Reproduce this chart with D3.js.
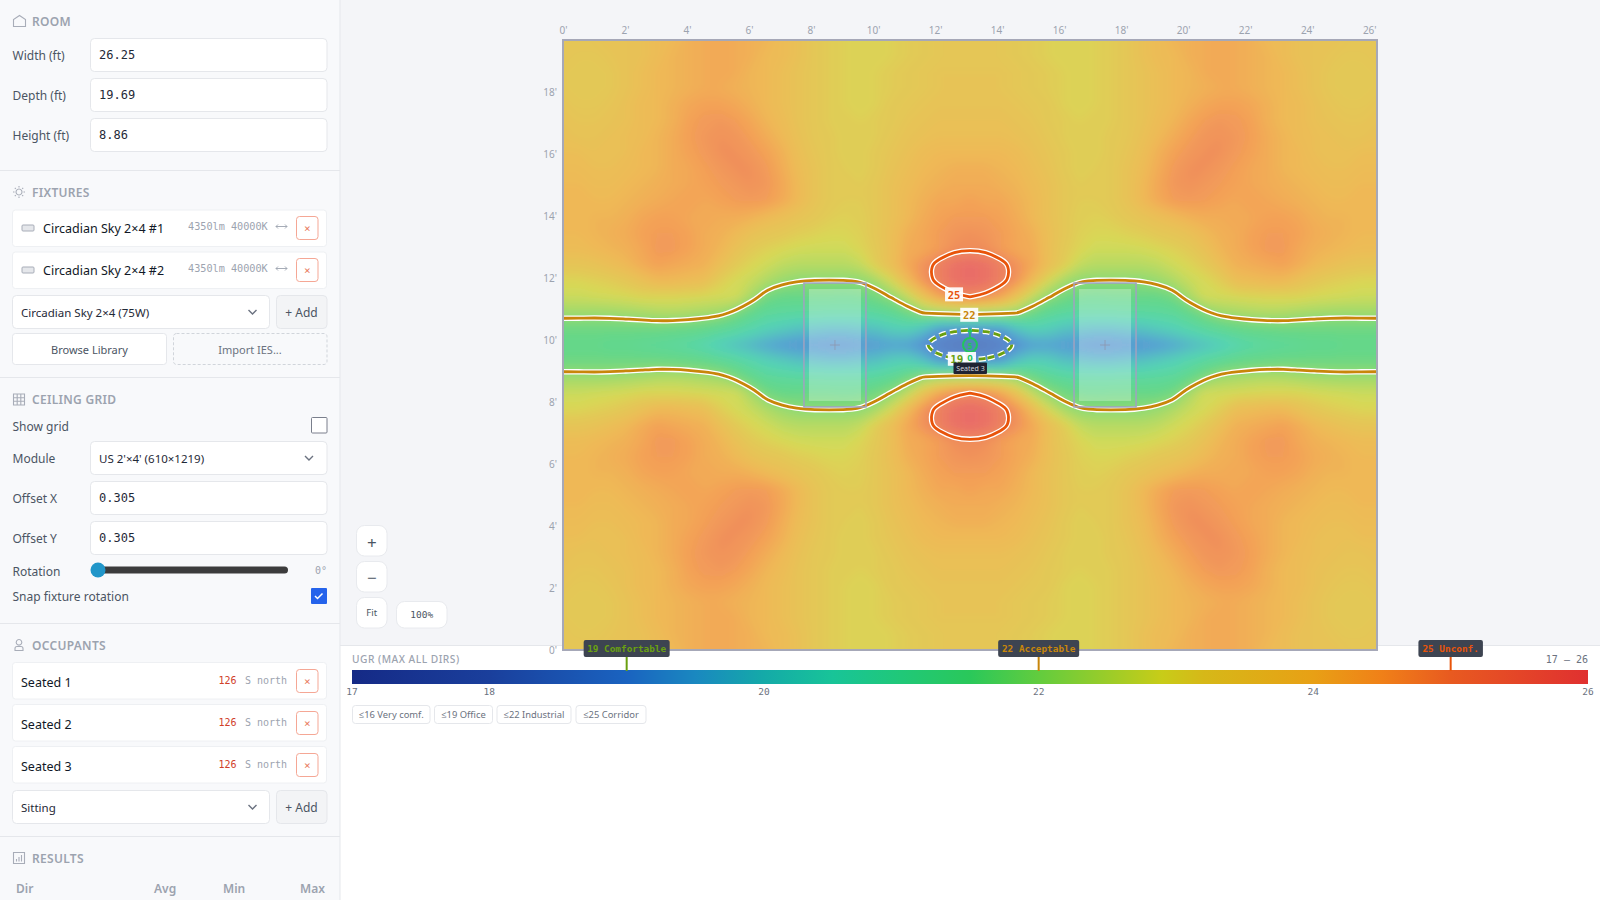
<!DOCTYPE html>
<html>
<head>
<meta charset="utf-8">
<title>UGR map</title>
<script src="https://cdn.jsdelivr.net/npm/d3@7"></script>
<style>
  html, body { margin: 0; padding: 0; background: #fff; overflow: hidden; }
  svg { display: block; }
</style>
</head>
<body>
<svg id="page" width="1600" height="900"></svg>
<script>
// values: top left quarter of the room, the map is mirrored in both axes
const ugrQuarter = [
  [23.4,23.4,23.5,23.5,23.6,23.7,23.9,24.0,24.2,24.3,24.3,24.3,24.2,24.1,23.9,23.7,23.4,23.2,23.1,23.0,23.0,23.1,23.2,23.3,23.4,23.4,23.4],
  [23.4,23.4,23.4,23.5,23.6,23.7,23.9,24.1,24.2,24.3,24.3,24.3,24.2,24.0,23.9,23.7,23.4,23.2,23.1,23.0,23.0,23.1,23.2,23.3,23.4,23.4,23.4],
  [23.4,23.3,23.3,23.4,23.6,23.8,24.0,24.1,24.2,24.3,24.3,24.3,24.1,24.0,23.8,23.6,23.4,23.2,23.1,23.0,23.1,23.2,23.3,23.4,23.5,23.5,23.5],
  [23.4,23.3,23.3,23.4,23.6,23.8,24.0,24.1,24.2,24.3,24.3,24.2,24.1,24.0,23.8,23.6,23.4,23.2,23.1,23.0,23.1,23.2,23.3,23.4,23.5,23.5,23.5],
  [23.5,23.4,23.4,23.5,23.7,23.9,24.0,24.2,24.4,24.5,24.5,24.4,24.2,24.0,23.8,23.6,23.4,23.2,23.1,23.0,23.1,23.3,23.4,23.5,23.6,23.6,23.6],
  [23.6,23.5,23.5,23.6,23.7,23.9,24.0,24.2,24.5,24.65,24.7,24.6,24.4,24.1,23.9,23.6,23.4,23.2,23.1,23.1,23.2,23.3,23.5,23.6,23.7,23.7,23.7],
  [23.7,23.6,23.6,23.7,23.8,23.9,24.1,24.3,24.55,24.7,24.8,24.75,24.55,24.3,24.0,23.7,23.4,23.3,23.1,23.1,23.2,23.4,23.6,23.7,23.8,23.8,23.8],
  [23.8,23.8,23.7,23.7,23.8,24.0,24.1,24.3,24.5,24.65,24.8,24.8,24.7,24.5,24.2,23.8,23.5,23.3,23.1,23.1,23.3,23.5,23.7,23.9,24.0,24.0,24.0],
  [23.9,23.9,23.8,23.8,23.9,24.0,24.1,24.3,24.4,24.55,24.7,24.8,24.8,24.65,24.3,23.9,23.6,23.3,23.2,23.1,23.3,23.6,23.8,24.0,24.1,24.2,24.2],
  [24.0,24.0,23.9,23.9,24.0,24.1,24.2,24.3,24.4,24.5,24.6,24.7,24.8,24.7,24.4,24.0,23.6,23.3,23.2,23.2,23.4,23.7,23.9,24.1,24.2,24.3,24.3],
  [24.0,24.0,24.0,24.0,24.1,24.2,24.3,24.4,24.4,24.4,24.5,24.6,24.65,24.6,24.35,24.0,23.6,23.3,23.2,23.2,23.4,23.7,24.0,24.2,24.4,24.4,24.5],
  [24.0,24.0,24.1,24.1,24.2,24.4,24.5,24.5,24.4,24.3,24.3,24.3,24.2,24.0,23.8,23.6,23.4,23.2,23.1,23.1,23.4,23.7,24.0,24.3,24.5,24.6,24.6],
  [24.0,24.0,24.1,24.2,24.3,24.5,24.6,24.6,24.5,24.3,24.2,24.0,23.7,23.5,23.4,23.2,23.1,23.0,23.0,23.1,23.4,23.8,24.2,24.4,24.6,24.75,24.8],
  [23.9,23.9,24.0,24.1,24.2,24.4,24.65,24.65,24.5,24.3,24.1,23.7,23.3,23.1,22.95,22.85,22.8,22.8,22.8,23.0,23.3,23.8,24.3,24.4,24.6,24.85,24.9],
  [23.5,23.5,23.6,23.8,24.0,24.3,24.5,24.4,24.3,24.2,23.8,23.3,23.0,22.8,22.6,22.5,22.5,22.5,22.5,22.65,23.2,23.8,24.4,24.8,25.2,25.7,25.9],
  [23.0,23.0,23.1,23.2,23.4,23.7,24.0,24.0,23.9,23.8,23.2,22.9,22.7,22.4,22.15,22.02,21.98,21.98,21.98,22.03,22.3,22.9,23.9,24.75,25.2,25.7,25.9],
  [22.75,22.75,22.8,22.85,22.9,23.0,23.0,23.0,22.95,22.9,22.85,22.85,22.3,21.7,21.5,21.5,21.5,21.5,21.45,21.5,21.7,22.05,22.6,23.6,24.45,24.85,25.0],
  [22.2,22.2,22.18,22.2,22.25,22.3,22.4,22.42,22.38,22.3,22.2,21.85,21.4,21.1,21.0,20.95,20.95,20.9,20.9,20.9,21.0,21.2,21.62,22.02,22.15,22.25,22.3],
  [21.6,21.6,21.6,21.6,21.6,21.6,21.6,21.55,21.5,21.4,21.2,21.0,20.7,20.4,20.2,20.0,19.9,19.8,19.8,19.9,20.0,20.3,20.4,20.0,19.25,19.1,19.05],
  [21.4,21.4,21.4,21.3,21.3,21.2,21.1,21.0,20.85,20.6,20.3,20.0,19.75,19.5,19.3,19.2,19.15,19.1,19.1,19.2,19.3,19.4,19.35,19.0,18.6,18.4,18.3]
];

const roomWidth = 26.25;
const roomDepth = 19.69;
const xTicks = [0, 2, 4, 6, 8, 10, 12, 14, 16, 18, 20, 22, 24, 26];
const yTicks = [0, 2, 4, 6, 8, 10, 12, 14, 16, 18];

const rampValues = [17, 18, 19, 19.5, 20, 20.5, 21, 21.5, 22, 22.9, 23.2, 24, 24.5, 25, 26];
const rampColors = ["#152a86", "#1a3f9c", "#1a63c0", "#1a88c0", "#14aaa8", "#18c498", "#20c878", "#2ac85a", "#62cc3e", "#c8cc18", "#d6b818", "#e8a015", "#f08018", "#e85a20", "#e03030"];

const contourLevels = [19, 22, 25];
const contourColors = ["#6aa010", "#c8860a", "#e8540a"];
const contourLabelPos = [[12.7, 9.4], [13.1, 10.82], [12.61, 11.48]];
const legendTicks = [17, 18, 20, 22, 24, 26];
const legendMarks = ["19 Comfortable", "22 Acceptable", "25 Unconf."];
const legendBadges = ["≤16 Very comf.", "≤19 Office", "≤22 Industrial", "≤25 Corridor"];

const fixtureX = [8.77, 17.48];
const fixtureY = [9.845, 9.845];
const fixtureW = 2;
const fixtureH = 4;
const occupantPos = [13.125, 9.845];

const roomFields = [["Width (ft)", "26.25"], ["Depth (ft)", "19.69"], ["Height (ft)", "8.86"]];
const fixtureNames = ["Circadian Sky 2×4 #1", "Circadian Sky 2×4 #2"];
const occupantNames = ["Seated 1", "Seated 2", "Seated 3"];
const resultCols = ["Dir", "Avg", "Min", "Max"];

const uiFont = "'Noto Sans', 'Open Sans', sans-serif";
const monoFont = "'DejaVu Sans Mono', monospace";
const svg = d3.select("#page");

function box(parent, x, y, w, h, fill, stroke, r = 0, dash = null) {
  return parent.append("rect")
    .attr("x", x).attr("y", y).attr("width", w).attr("height", h)
    .attr("rx", r).attr("fill", fill).attr("stroke", stroke || "none")
    .attr("stroke-dasharray", dash);
}

function label(parent, x, y, str, size, fill, opts = {}) {
  return parent.append("text")
    .attr("x", x).attr("y", y)
    .attr("dominant-baseline", "central")
    .attr("text-anchor", opts.anchor || "start")
    .attr("font-family", opts.font || uiFont)
    .attr("font-size", size)
    .attr("font-weight", opts.weight || 400)
    .attr("letter-spacing", opts.spacing || null)
    .attr("fill", fill)
    .text(str);
}

// ------ map
const plotLeft = 563, plotRight = 1377, plotTop = 40, plotBottom = 650;
const x = d3.scaleLinear().domain([0, roomWidth]).range([plotLeft, plotRight]);
const y = d3.scaleLinear().domain([0, roomDepth]).range([plotBottom, plotTop]);
const color = d3.scaleLinear().domain(rampValues).range(rampColors).clamp(true);

const ny = ugrQuarter.length * 2 - 1;
const nx = ugrQuarter[0].length * 2 - 1;
const ugrGrid = [];
for (let j = 0; j < ny; j++) {
  const row = ugrQuarter[j < ugrQuarter.length ? j : ny - 1 - j];
  for (let i = 0; i < nx; i++) {
    ugrGrid.push(row[i < row.length ? i : nx - 1 - i]);
  }
}

// d3.contours puts cell centres on .5
const gridX = d3.scaleLinear().domain([0.5, nx - 0.5]).range([plotLeft, plotRight]);
const gridY = d3.scaleLinear().domain([0.5, ny - 0.5]).range([plotTop, plotBottom]);

function drawMainBackground() {
  box(svg, 0, 0, 1600, 900, "#ffffff");
  box(svg, 340, 0, 1260, 645, "#f4f5f8");
  svg.append("line").attr("x1", 340).attr("x2", 1600).attr("y1", 645.5).attr("y2", 645.5).attr("stroke", "#e5e7eb");
}

function drawHeatmap() {
  const defs = svg.append("defs");
  defs.append("clipPath").attr("id", "room")
    .append("rect")
    .attr("x", plotLeft).attr("y", plotTop)
    .attr("width", plotRight - plotLeft).attr("height", plotBottom - plotTop);
  const soften = defs.append("filter").attr("id", "soften")
    .attr("filterUnits", "userSpaceOnUse")
    .attr("x", plotLeft - 30).attr("y", plotTop - 30)
    .attr("width", plotRight - plotLeft + 60).attr("height", plotBottom - plotTop + 60);
  soften.append("feGaussianBlur").attr("stdDeviation", 4);

  const bands = d3.range(170, 260).map(d => d / 10);
  const contours = d3.contours().size([nx, ny]).thresholds(bands)(ugrGrid);
  const path = d3.geoPath(d3.geoTransform({
    point(px, py) { this.stream.point(gridX(px), gridY(py)); }
  }));

  const map = svg.append("g").attr("clip-path", "url(#room)");
  box(map, plotLeft, plotTop, plotRight - plotLeft, plotBottom - plotTop, "#ffffff");
  const heat = map.append("g").attr("opacity", 0.72).append("g").attr("filter", "url(#soften)");
  box(heat, plotLeft - 20, plotTop - 20, plotRight - plotLeft + 40, plotBottom - plotTop + 40, color(17));
  heat.selectAll("path")
    .data(contours)
    .enter()
    .append("path")
    .attr("d", path)
    .attr("fill", d => color(d.value + 0.05));

  // iso lines: trace the rings again, drop what runs along the edge of the grid
  const curveOpen = d3.line().x(d => gridX(d[0])).y(d => gridY(d[1])).curve(d3.curveBasis);
  const curveClosed = d3.line().x(d => gridX(d[0])).y(d => gridY(d[1])).curve(d3.curveBasisClosed);

  contourLevels.forEach((level, k) => {
    const dashed = level === 19;
    isoRuns(level).forEach(run => {
      const dStr = run.closed ? curveClosed(run.pts) : curveOpen(run.pts);
      map.append("path").attr("d", dStr).attr("fill", "none")
        .attr("stroke", "#ffffff").attr("stroke-width", 5.4)
        .attr("stroke-dasharray", dashed ? "7 4" : null);
      map.append("path").attr("d", dStr).attr("fill", "none")
        .attr("stroke", contourColors[k]).attr("stroke-width", 2.8)
        .attr("stroke-dasharray", dashed ? "7 4" : null);
    });
  });

  // fixtures
  fixtureX.forEach((fx, k) => {
    const cx = x(fx), cy = y(fixtureY[k]);
    const w = x(fixtureW) - x(0), h = y(0) - y(fixtureH);
    box(map, cx - w / 2 + 5, cy - h / 2 + 6, w - 10, h - 12, "#ffffff").attr("opacity", 0.28);
    box(map, cx - w / 2, cy - h / 2, w, h, "none", "#a0a2c0").attr("stroke-width", 1.5);
    map.append("path").attr("d", `M${cx - 5},${cy}H${cx + 5}M${cx},${cy - 5}V${cy + 5}`)
      .attr("stroke", "#8e98b0").attr("stroke-width", 0.8);
  });

  box(svg, plotLeft, plotTop, plotRight - plotLeft, plotBottom - plotTop, "none", "#a6a8b8").attr("stroke-width", 2);

  // axes
  const topAxis = d3.axisTop(x).tickValues(xTicks).tickSize(0).tickPadding(6).tickFormat(d => d + "'");
  const leftAxis = d3.axisLeft(y).tickValues(yTicks).tickSize(0).tickPadding(6).tickFormat(d => d + "'");
  const axisTop = svg.append("g").attr("transform", `translate(0,${plotTop})`).call(topAxis);
  const axisLeft = svg.append("g").attr("transform", `translate(${plotLeft},0)`).call(leftAxis);
  [axisTop, axisLeft].forEach(a => {
    a.select(".domain").remove();
    a.selectAll("text").attr("fill", "#9ca3af").attr("font-size", 10).attr("font-family", uiFont);
  });

  // value labels on the iso lines
  contourLevels.forEach((level, k) => {
    const lx = x(contourLabelPos[k][0]), ly = y(contourLabelPos[k][1]);
    box(svg, lx - 9, ly - 7, 18, 14, "#ffffff").attr("opacity", 0.92);
    label(svg, lx, ly + 0.5, level, level === 19 ? 11 : 10.5, contourColors[k], { anchor: "middle", font: monoFont, weight: 700 });
  });

  // occupant
  const ox = x(occupantPos[0]), oy = y(occupantPos[1]);
  svg.append("line").attr("x1", ox).attr("x2", ox).attr("y1", oy - 7).attr("y2", oy - 15)
    .attr("stroke", "#22c55e").attr("stroke-width", 1.5);
  svg.append("path").attr("d", `M${ox - 3},${oy - 13}L${ox},${oy - 17}L${ox + 3},${oy - 13}Z`).attr("fill", "#22c55e");
  svg.append("circle").attr("cx", ox).attr("cy", oy).attr("r", 7)
    .attr("fill", "#22c55e").attr("fill-opacity", 0.15).attr("stroke", "#22c55e").attr("stroke-width", 2);
  label(svg, ox, oy, "5", 8, "#22c55e", { anchor: "middle", weight: 700 });
  box(svg, ox - 7, oy + 7, 13, 14, "#ffffff").attr("opacity", 0.92);
  label(svg, ox, oy + 12, "0", 9.5, "#22c55e", { anchor: "middle", weight: 700 });
  box(svg, ox - 16.5, oy + 17.5, 33.5, 11.5, "#1f2333", null, 1);
  label(svg, ox + 0.5, oy + 23.5, "Seated 3", 7, "#d1d5db", { anchor: "middle" });
}

function isoRuns(level) {
  const c = d3.contours().size([nx, ny]).contour(ugrGrid, level);
  const inside = p => p[0] >= 0.5 && p[0] <= nx - 0.5 && p[1] >= 0.5 && p[1] <= ny - 0.5;
  const runs = [];
  c.coordinates.forEach(poly => poly.forEach(ring => {
    const pts = ring.slice(0, -1);
    const start = pts.findIndex(p => !inside(p));
    if (start < 0) {
      runs.push({ closed: true, pts });
      return;
    }
    let current = [];
    for (let n = 0; n < pts.length; n++) {
      const p = pts[(start + n) % pts.length];
      if (inside(p)) {
        current.push(p);
      } else if (current.length) {
        runs.push({ closed: false, pts: current });
        current = [];
      }
    }
    if (current.length) runs.push({ closed: false, pts: current });
  }));
  return runs;
}

// ------ colour bar
function drawLegend() {
  const barLeft = 352, barRight = 1588, barTop = 670, barHeight = 14;
  const scale = d3.scaleLinear().domain([17, 26]).range([barLeft, barRight]);
  const grad = svg.append("defs").append("linearGradient").attr("id", "ugrRamp");
  rampValues.forEach((v, i) => {
    grad.append("stop").attr("offset", ((v - 17) / 9 * 100) + "%").attr("stop-color", rampColors[i]);
  });

  label(svg, barLeft, 659, "UGR (MAX ALL DIRS)", 10.2, "#9ca3af", { weight: 500, spacing: 0.5 });
  label(svg, barRight, 659, "17 – 26", 10, "#6b7280", { anchor: "end", font: monoFont });
  box(svg, barLeft, barTop, barRight - barLeft, barHeight, "url(#ugrRamp)");

  legendTicks.forEach(t => {
    label(svg, scale(t), 691, t, 9.5, "#6b7280", { anchor: "middle", font: monoFont });
  });

  const markWidths = [86, 81, 64.5];
  contourLevels.forEach((level, k) => {
    const mx = scale(level);
    svg.append("line").attr("x1", mx).attr("x2", mx).attr("y1", 657).attr("y2", 671)
      .attr("stroke", contourColors[k]).attr("stroke-width", 2);
    box(svg, mx - markWidths[k] / 2, 640, markWidths[k], 17, "#3d4451", null, 2);
    label(svg, mx, 648.5, legendMarks[k], 9.4, contourColors[k], { anchor: "middle", font: monoFont, weight: 700 });
  });

  const badgeX = [352.5, 434.5, 497, 576];
  const badgeW = [77.5, 58, 74, 70];
  legendBadges.forEach((b, k) => {
    box(svg, badgeX[k], 705.5, badgeW[k], 18, "#ffffff", "#e5e7eb", 3);
    label(svg, badgeX[k] + badgeW[k] / 2, 714.5, b, 9.4, "#6b7280", { anchor: "middle" });
  });
}

function drawZoomControls() {
  const btn = (bx, by, w, h, str, size, font, dy = 0) => {
    box(svg, bx, by, w, h, "#ffffff", "#e8eaee", 8);
    label(svg, bx + w / 2, by + h / 2 + dy, str, size, "#4b5563", { anchor: "middle", font: font || uiFont });
  };
  btn(356.5, 525.5, 30.5, 30.5, "+", 17, null, 2);
  btn(356.5, 561.5, 30.5, 30.5, "−", 17, null, 1);
  btn(356.5, 597.5, 30.5, 30.5, "Fit", 9.5);
  btn(396.5, 601.5, 50.5, 26.5, "100%", 9.5, monoFont);
}

// ------ left panel
function sectionHead(g, cy, str, iconPath) {
  g.append("path").attr("d", iconPath).attr("transform", `translate(13,${cy - 6})`)
    .attr("fill", "none").attr("stroke", "#a8adb8").attr("stroke-width", 1.1);
  label(g, 32, cy, str, 12, "#9ca3af", { weight: 600, spacing: 0.3 });
}

function chevron(g, cx, cy) {
  g.append("path").attr("d", `M${cx - 4},${cy - 2}L${cx},${cy + 2}L${cx + 4},${cy - 2}`)
    .attr("fill", "none").attr("stroke", "#6b7280").attr("stroke-width", 1.4);
}

function closeBtn(g, by) {
  box(g, 296.5, by, 21.5, 23, "#ffffff", "#f5a795", 3);
  label(g, 307.2, by + 12, "×", 11, "#e8785a", { anchor: "middle", font: monoFont });
}

function field(g, cy, name, value, isSelect) {
  label(g, 12.5, cy, name, 12, "#4b5563");
  box(g, 90.5, cy - 16.5, 236.5, 33, "#ffffff", "#e5e7eb", 4);
  if (isSelect) {
    label(g, 99, cy, value, 11.5, "#1f2937");
    chevron(g, 309, cy);
  } else {
    label(g, 99, cy, value, 12, "#1f2937", { font: monoFont });
  }
}

function selectAdd(g, cy, value) {
  box(g, 12.5, cy - 16.5, 257, 33, "#ffffff", "#e5e7eb", 4);
  label(g, 21, cy, value, 11.5, "#1f2937");
  chevron(g, 252.5, cy);
  box(g, 276.5, cy - 16.5, 50.5, 33, "#f3f4f6", "#e5e7eb", 4);
  label(g, 301.5, cy, "+ Add", 12, "#4b5563", { anchor: "middle" });
}

function separator(g, sy) {
  g.append("line").attr("x1", 0).attr("x2", 340).attr("y1", sy).attr("y2", sy).attr("stroke", "#e5e7eb");
}

function drawPanel() {
  const g = svg.append("g");
  box(g, 0, 0, 340, 900, "#f8f9fb");
  g.append("line").attr("x1", 340).attr("x2", 340).attr("y1", 0).attr("y2", 900).attr("stroke", "#e5e7eb");

  sectionHead(g, 21, "ROOM", "M0.5,11.5V4.5L6.5,0.5L12.5,4.5V11.5Z");
  roomFields.forEach((f, k) => field(g, 55 + k * 40, f[0], f[1]));
  separator(g, 170.5);

  sectionHead(g, 192, "FIXTURES", "M6,3a3,3 0 1,0 0.01,0M6,0V1.5M6,10.5V12M0,6H1.5M10.5,6H12M1.8,1.8L2.8,2.8M9.2,9.2L10.2,10.2M1.8,10.2L2.8,9.2M9.2,2.8L10.2,1.8");
  fixtureNames.forEach((name, k) => {
    const top = 210 + k * 42;
    box(g, 12.5, top, 314, 36.5, "#ffffff", "#eef0f3", 3);
    box(g, 22, top + 15, 12, 6, "#e5e7eb", "#a8adb8", 1);
    label(g, 43, top + 18.5, name, 12.5, "#111827");
    label(g, 188, top + 16.5, "4350lm 40000K", 10.2, "#9ca3af", { font: monoFont });
    g.append("path").attr("d", `M276,${top + 16.5}H287M278,${top + 14.5}L276,${top + 16.5}L278,${top + 18.5}M285,${top + 14.5}L287,${top + 16.5}L285,${top + 18.5}`)
      .attr("fill", "none").attr("stroke", "#9ca3af").attr("stroke-width", 0.9);
    closeBtn(g, top + 6.5);
  });
  selectAdd(g, 312, "Circadian Sky 2×4 (75W)");
  box(g, 12.5, 333.5, 154, 31, "#ffffff", "#e5e7eb", 3);
  label(g, 89.5, 349.5, "Browse Library", 11, "#4b5563", { anchor: "middle" });
  box(g, 173.5, 333.5, 153.5, 31, "none", "#d1d5db", 3, "3 2");
  label(g, 250, 349.5, "Import IES...", 11, "#6b7280", { anchor: "middle" });
  separator(g, 377.5);

  sectionHead(g, 399.5, "CEILING GRID", "M0.5,0.5H11.5V11.5H0.5ZM0.5,4.2H11.5M0.5,7.8H11.5M4.2,0.5V11.5M7.8,0.5V11.5");
  label(g, 12.5, 426, "Show grid", 12, "#4b5563");
  box(g, 311.5, 417.5, 15.5, 15.5, "#ffffff", "#7a7f8c", 1);
  field(g, 458, "Module", "US 2'×4' (610×1219)", true);
  field(g, 498, "Offset X", "0.305");
  field(g, 538, "Offset Y", "0.305");
  label(g, 12.5, 571, "Rotation", 12, "#4b5563");
  box(g, 98, 566.5, 190, 7, "#3c3c3c", null, 3.5);
  g.append("circle").attr("cx", 98).attr("cy", 570).attr("r", 7.5).attr("fill", "#2196c9");
  label(g, 327, 570, "0°", 10, "#9ca3af", { anchor: "end", font: monoFont });
  label(g, 12.5, 596, "Snap fixture rotation", 12, "#4b5563");
  box(g, 311, 588, 16, 16, "#2563eb", null, 1);
  g.append("path").attr("d", "M315,596l2.5,2.5l5,-5").attr("fill", "none").attr("stroke", "#fff").attr("stroke-width", 1.5);
  separator(g, 623.5);

  sectionHead(g, 645, "OCCUPANTS", "M6,0.5a2.8,2.8 0 1,0 0.01,0M2,11.5V9.5Q2,7.5 4,7.5H8Q10,7.5 10,9.5V11.5Z");
  occupantNames.forEach((name, k) => {
    const top = 662.5 + k * 42;
    box(g, 12.5, top, 314, 36.5, "#ffffff", "#eef0f3", 3);
    label(g, 21, top + 19.5, name, 12.5, "#111827");
    label(g, 218.5, top + 17.5, "126", 10, "#d0402a", { font: monoFont });
    label(g, 245, top + 17.5, "S north", 10, "#9ca3af", { font: monoFont });
    closeBtn(g, top + 7);
  });
  selectAdd(g, 807, "Sitting");
  separator(g, 836.5);

  sectionHead(g, 858, "RESULTS", "M0.5,0.5H11.5V11.5H0.5ZM3.5,9.5V7M6,9.5V5M8.5,9.5V3");
  const colX = [16, 154, 223, 300];
  resultCols.forEach((c, k) => label(g, colX[k], 888, c, 12, "#9ca3af", { weight: 600 }));
}

drawMainBackground();
drawHeatmap();
drawLegend();
drawZoomControls();
drawPanel();
</script>
</body>
</html>
